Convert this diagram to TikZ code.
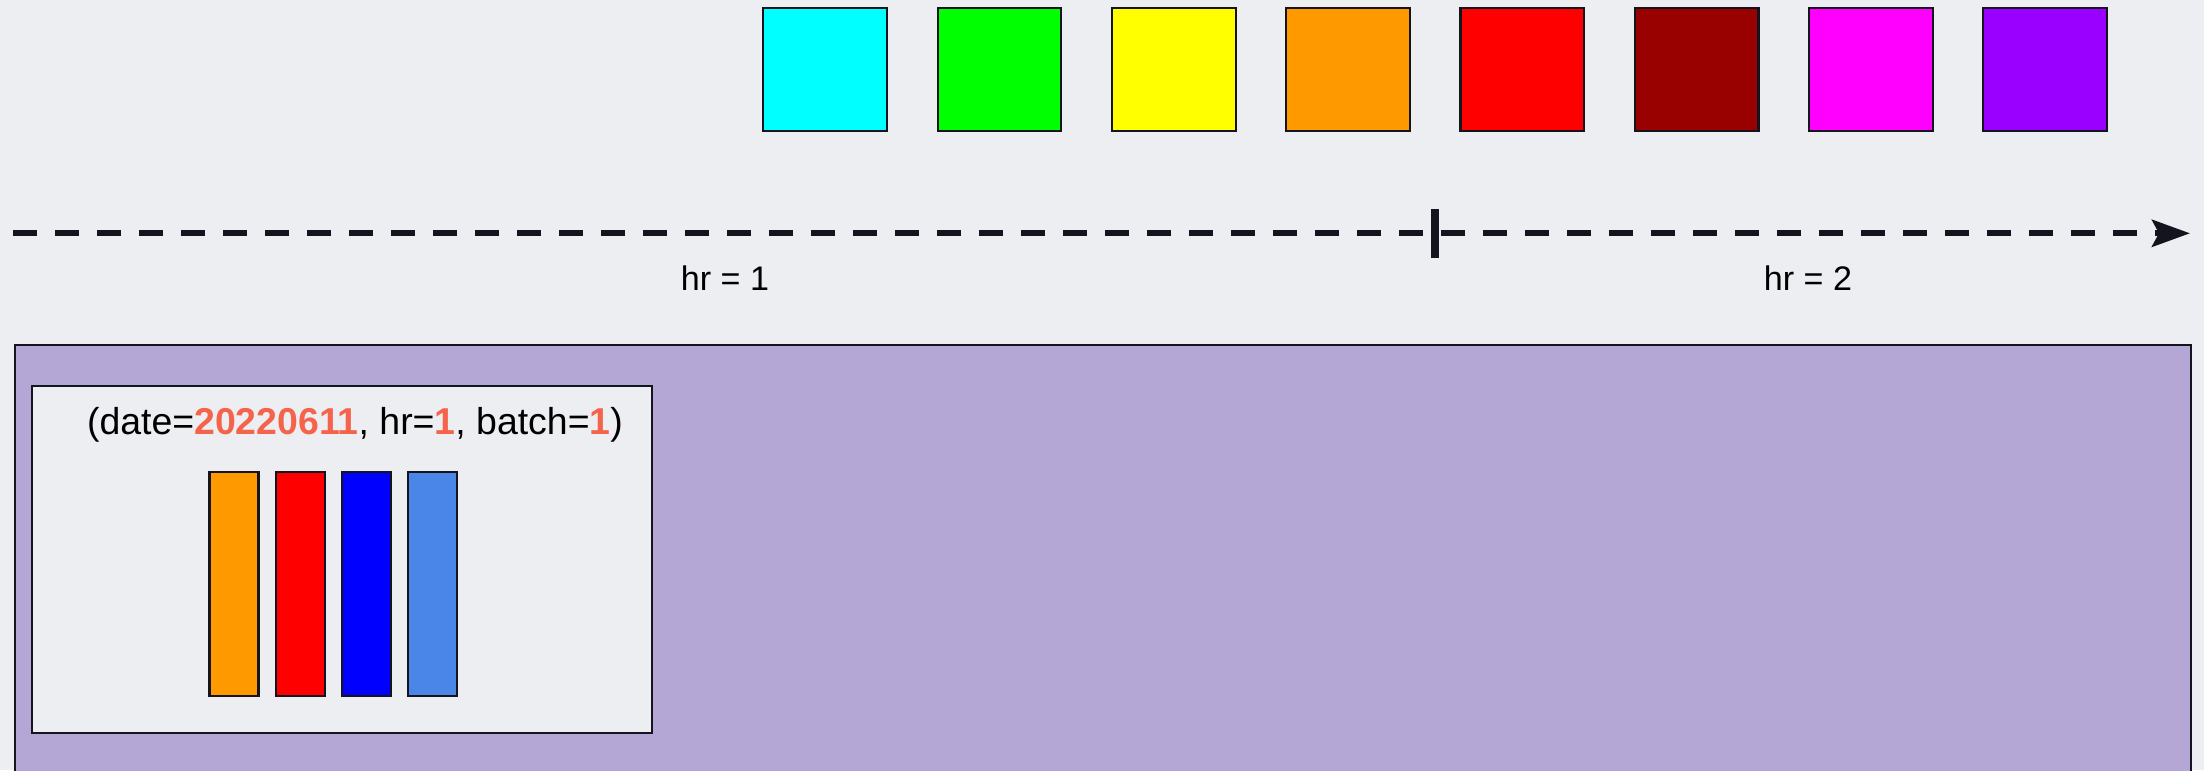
\documentclass[tikz,border=0pt]{standalone}
\usepackage{fontspec}
\setmainfont{Liberation Sans}
\usetikzlibrary{arrows.meta}
\definecolor{bgc}{HTML}{ECEEF2}
\definecolor{lila}{HTML}{B4A7D6}
\definecolor{hot}{HTML}{F5634A}
\definecolor{ink}{HTML}{14141E}
\definecolor{aqua}{HTML}{00FFFF}
\definecolor{lime}{HTML}{00FF00}
\definecolor{lemon}{HTML}{FFFF00}
\definecolor{orng}{HTML}{FF9900}
\definecolor{scarlet}{HTML}{FF0000}
\definecolor{dkred}{HTML}{990000}
\definecolor{pink}{HTML}{FF00FF}
\definecolor{violet}{HTML}{9900FF}
\definecolor{navy}{HTML}{0000FF}
\definecolor{sky}{HTML}{4A86E8}
\begin{document}
\begin{tikzpicture}[
  cell/.style={draw=ink, line width=0.6pt, minimum width=1.237cm, minimum height=1.223cm, inner sep=0pt},
  bar/.style={draw=ink, line width=0.6pt, minimum width=0.49cm, minimum height=2.24cm, inner sep=0pt},
  box/.style={draw=ink, line width=0.6pt, inner sep=0pt, anchor=north west},
  axis/.style={ink, line width=1.7pt, dash pattern=on 0.24cm off 0.18cm},
  lbl/.style={font=\fontsize{9.7}{12}\selectfont}]
\clip (0,0) rectangle (22.04,7.7);
\fill[bgc] (0,0) rectangle (22.04,7.7);
\foreach \c [count=\i] in {aqua,lime,lemon,orng,scarlet,dkred,pink,violet}
  \node[cell, fill=\c] (sq\i) at ({8.251+1.743*(\i-1)},7.005) {};
\coordinate (t0) at (0.13,5.367);
\coordinate (t1) at (21.90,5.367);
\draw[axis, -{Stealth[length=0.38cm,width=0.27cm,inset=0.07cm]}] (t0) -- (t1);
\coordinate (m0) at (14.35,5.61);
\coordinate (m1) at (14.35,5.12);
\draw[ink, line width=2.3pt] (m0) -- (m1);
\node[lbl] (hr1) at (7.25,4.92) {hr = 1};
\node[lbl] (hr2) at (18.08,4.92) {hr = 2};
\node[box, fill=lila, minimum width=21.76cm, minimum height=4.6cm] (bin) at (0.14,4.26) {};
\node[box, fill=bgc, minimum width=6.2cm, minimum height=3.47cm] (part) at (0.31,3.85) {};
\node[lbl, font=\fontsize{10.65}{13}\selectfont] (date) at (3.55,3.455)
  {(date=\textcolor{hot}{\textbf{20220611}}, hr=\textcolor{hot}{\textbf{1}}, batch=\textcolor{hot}{\textbf{1}})};
\foreach \c [count=\i] in {orng,scarlet,navy,sky}
  \node[bar, fill=\c] (bar\i) at ({2.34+0.661*(\i-1)},1.86) {};
\end{tikzpicture}
\end{document}
